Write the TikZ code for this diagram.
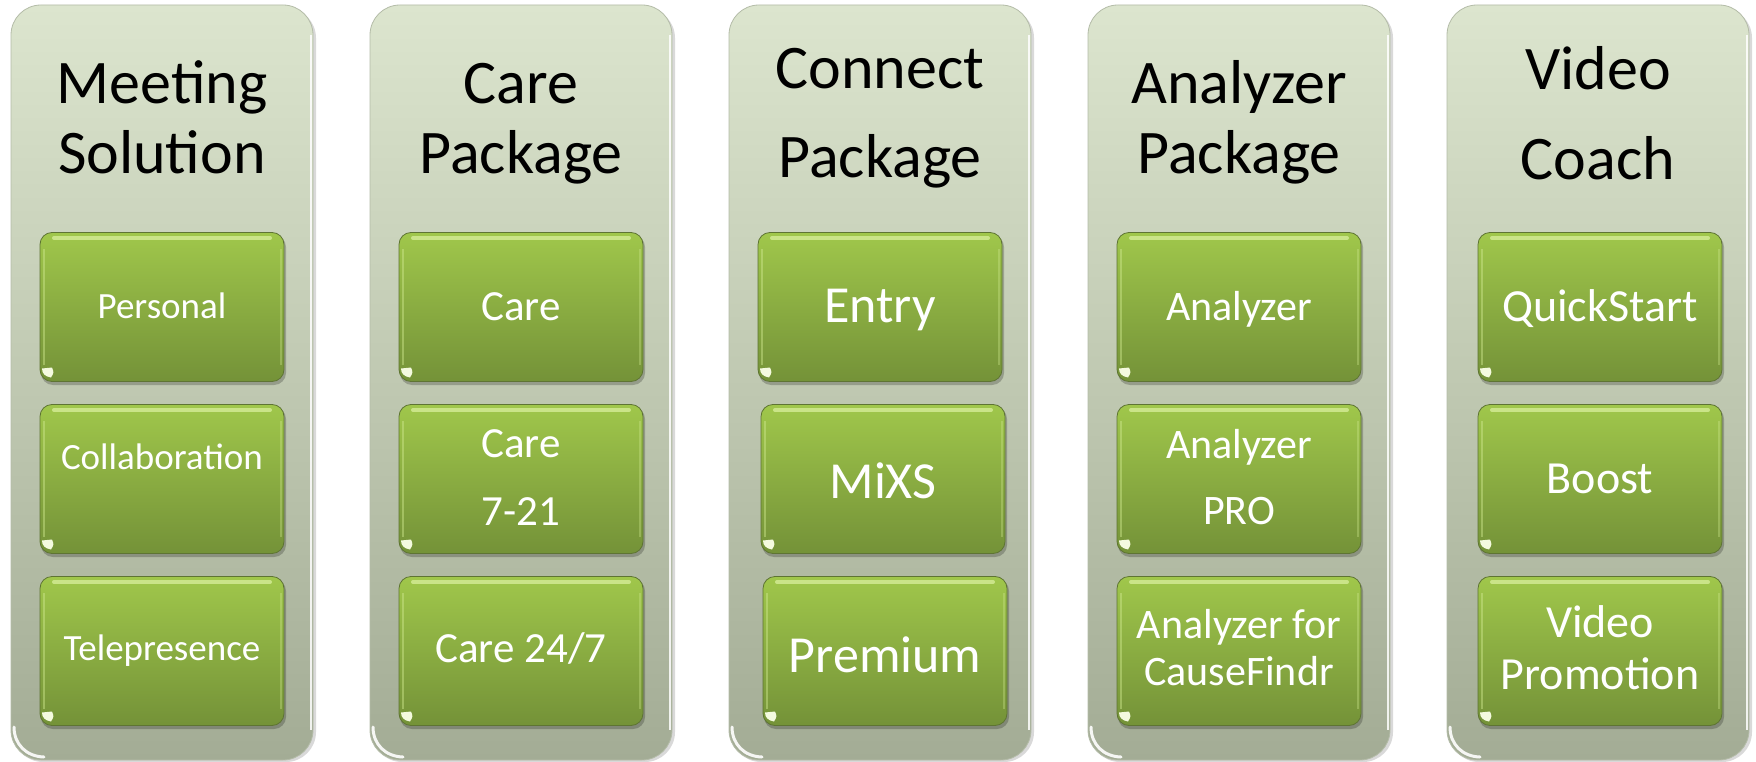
\documentclass[tikz,border=0pt]{standalone}
\usepackage{fontspec}
\setmainfont{Carlito}
\usetikzlibrary{shadings}
\definecolor{outtop}{HTML}{DCE5CE}
\definecolor{outbot}{HTML}{A3AC95}
\definecolor{outedge}{HTML}{B4BCA8}
\definecolor{intop}{HTML}{A0C74B}
\definecolor{inbot}{HTML}{749238}
\definecolor{inedge}{HTML}{5E7433}
\definecolor{inhl}{HTML}{CFE88F}
\definecolor{wedge}{HTML}{F4FADF}
\newcommand{\mystack}[1]{\begin{tabular}[t]{@{}c@{}}#1\end{tabular}}
\newcommand{\fsize}[2]{\fontsize{#1}{#2}\selectfont}
\tikzset{
  panelbox/.style={rectangle, rounded corners=30pt, minimum width=302pt, minimum height=755pt,
    inner sep=0pt, top color=outtop, bottom color=outbot, draw=outedge, line width=0.8pt},
  tilebox/.style={rectangle, rounded corners=12pt, minimum width=244pt, minimum height=149pt,
    inner sep=0pt, top color=intop, bottom color=inbot, draw=inedge, line width=0.8pt},
  ttl/.style={anchor=base, inner sep=0pt, text=black},
  lbl/.style={anchor=base, inner sep=0pt, text=white},
}
% panel: name, centre x
\newcommand{\panel}[2]{%
  \fill[black, opacity=.15, rounded corners=30pt] (#2-149,8) rectangle (#2+154,762);
  \node[panelbox] (#1) at (#2,382.5) {};
  \draw[white, opacity=.85, line width=2pt] (#2+148.5,35) -- (#2+148.5,730);
  \draw[white, opacity=.9, line width=3pt, line cap=round]
    (#2-148,727) .. controls (#2-148,744) and (#2-136,756.5) .. (#2-118,757);
}
% tile: name, centre x, centre y
\newcommand{\tile}[3]{%
  \fill[black, opacity=.22, rounded corners=12pt] (#2-121,#3-72) rectangle (#2+124,#3+78);
  \node[tilebox] (#1) at (#2,#3) {};
  \draw[inhl, opacity=.9, line width=4pt, line cap=round] (#2-108,#3-69) -- (#2+108,#3-69);
  \draw[inhl, opacity=.45, line width=2pt] (#2-118.5,#3-58) -- (#2-118.5,#3+58);
  \draw[inhl, opacity=.35, line width=2pt] (#2+118.5,#3-58) -- (#2+118.5,#3+58);
  \fill[wedge] (#2-120,#3+61.5) -- (#2-110,#3+60.5)
    .. controls (#2-108,#3+65.5) .. (#2-111,#3+70.5)
    .. controls (#2-117,#3+69.5) and (#2-120,#3+66.5) .. (#2-120,#3+61.5) -- cycle;
}
\begin{document}
\begin{tikzpicture}[x=1pt, y=-1pt]
\useasboundingbox (0,0) rectangle (1756,762);
\fill[white] (0,0) rectangle (1756,762);

% ---------- panels ----------
\panel{p1}{162}
\panel{p2}{521}
\panel{p3}{880}
\panel{p4}{1239}
\panel{p5}{1598}

% ---------- titles ----------
\node[ttl, font=\fsize{62}{70}] (t1) at (162,104) {\mystack{Meeting\\Solution}};
\node[ttl, font=\fsize{62}{70}] (t2) at (521,104) {\mystack{Care\\Package}};
\node[ttl, font=\fsize{62}{89}] (t3) at (880,89) {\mystack{Connect\\Package}};
\node[ttl, font=\fsize{62}{70}] (t4) at (1239,104) {\mystack{Analyzer\\Package}};
\node[ttl, font=\fsize{62}{90}] (t5) at (1598,90) {\mystack{Video\\Coach}};

% ---------- tiles ----------
\tile{b11}{162}{307}
\tile{b12}{162}{479}
\tile{b13}{162}{651}
\tile{b21}{521}{307}
\tile{b22}{521}{479}
\tile{b23}{521}{651}
\tile{b31}{880}{307}
\tile{b32}{883}{479}
\tile{b33}{885}{651}
\tile{b41}{1239}{307}
\tile{b42}{1239}{479}
\tile{b43}{1239}{651}
\tile{b51}{1600}{307}
\tile{b52}{1600}{479}
\tile{b53}{1600}{651}

% ---------- tile labels ----------
\node[lbl, font=\fsize{37}{44}] (l11) at (162,318) {Personal};
\node[lbl, font=\fsize{37}{44}] (l12) at (162,469) {Collaboration};
\node[lbl, font=\fsize{37}{44}] (l13) at (162,660) {Telepresence};

\node[lbl, font=\fsize{43}{52}] (l21) at (521,320) {Care};
\node[lbl, font=\fsize{43}{68}] (l22) at (521,457) {\mystack{Care\\7-21}};
\node[lbl, font=\fsize{43}{52}] (l23) at (521,662) {Care 24/7};

\node[lbl, font=\fsize{52}{62}] (l31) at (880,322) {Entry};
\node[lbl, font=\fsize{52}{62}] (l32) at (883,498) {MiXS};
\node[lbl, font=\fsize{52}{62}] (l33) at (885,672) {Premium};

\node[lbl, font=\fsize{42}{50}] (l41) at (1239,320) {Analyzer};
\node[lbl, font=\fsize{42}{66}] (l42) at (1239,458) {\mystack{Analyzer\\PRO}};
\node[lbl, font=\fsize{42}{47}] (l43) at (1239,638) {\mystack{Analyzer for\\CauseFindr}};

\node[lbl, font=\fsize{46}{55}] (l51) at (1600,321) {QuickStart};
\node[lbl, font=\fsize{46}{55}] (l52) at (1600,493) {Boost};
\node[lbl, font=\fsize{46}{52}] (l53) at (1600,637) {\mystack{Video\\Promotion}};
\end{tikzpicture}
\end{document}
